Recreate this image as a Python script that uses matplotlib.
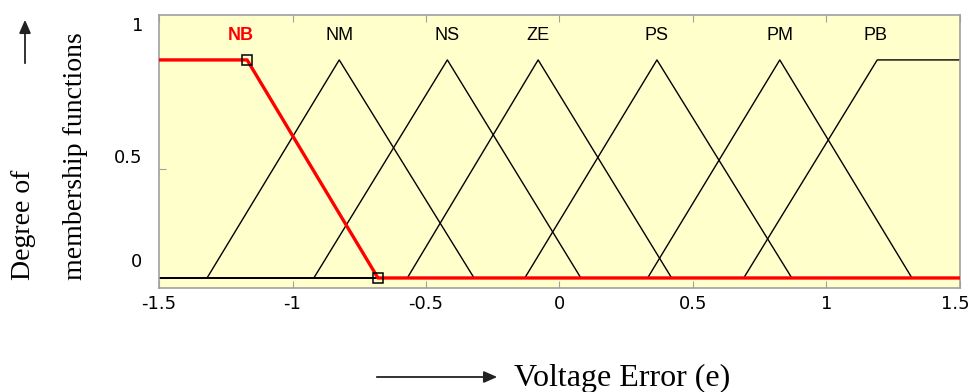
import numpy as np
import matplotlib.pyplot as plt
from matplotlib.transforms import offset_copy

# universe of discourse for the voltage error
x_range = [-1.5, 1.5]

# NB is a left shoulder: flat at 1 up to nb_shoulder, down to 0 at nb_foot
nb_shoulder = -1.17
nb_foot = -0.68

# triangular sets: (left foot, peak, right foot)
tri_names = ['NM', 'NS', 'ZE', 'PS', 'PM']
tri_left = [-1.32, -0.92, -0.57, -0.13, 0.33]
tri_peak = [-0.825, -0.42, -0.08, 0.365, 0.825]
tri_right = [-0.32, 0.08, 0.42, 0.87, 1.32]

# PB is a right shoulder
pb_foot = 0.69
pb_shoulder = 1.19

x_ticks = [-1.5, -1, -0.5, 0, 0.5, 1, 1.5]
x_ticklabels = ['-1.5', '-1', '-0.5', '0', '0.5', '1', '1.5']
y_ticks = [0, 0.5, 1]

W, H = 970, 392
fig = plt.figure(figsize=(W / 100, H / 100), dpi=100)
fig.patch.set_facecolor('white')
ax = fig.add_axes([159 / W, 1 - 288 / H, (960 - 159) / W, (288 - 15) / H])
ax.set_facecolor('#ffffcc')

lo, hi = x_range
lab_font = dict(fontsize=13, family='Liberation Sans')

# black sets, each plotted over the whole range like plotmf does
for name, a, b, c in zip(tri_names, tri_left, tri_peak, tri_right):
    ax.plot([lo, a, b, c, hi], [0, 0, 1, 0, 0], color='black', lw=1.0, zorder=2)
    ax.text(b, 1.11, name, ha='center', va='center', color='black', **lab_font)

ax.plot([lo, pb_foot, pb_shoulder, hi], [0, 0, 1, 1], color='black', lw=1.0, zorder=2)
ax.text(pb_shoulder - 0.005, 1.11, 'PB', ha='center', va='center', color='black', **lab_font)

# selected set in red with square handles on its vertices
ax.plot([lo, nb_shoulder, nb_foot, hi], [1, 1, 0, 0], color='#ff0000', lw=2.4, zorder=3)
ax.plot([nb_shoulder, nb_foot], [1, 0], ls='none', marker='s', ms=7,
        mfc='none', mec='black', mew=1.1, zorder=4)
ax.text(nb_shoulder - 0.025, 1.11, 'NB', ha='center', va='center',
        weight='bold', color='#ff0000', **lab_font)

ax.set_xlim(lo, hi)
ax.set_ylim(-0.046, 1.206)
ax.set_xticks(x_ticks)
ax.set_xticklabels(x_ticklabels, family='DejaVu Sans', fontsize=13)
ax.set_yticks(y_ticks)
ax.set_yticklabels([])
ax.tick_params(axis='x', direction='in', length=5, color='#a0a0a0',
               top=True, pad=5)
ax.tick_params(axis='y', direction='in', length=5, color='#a0a0a0')
for s in ax.spines.values():
    s.set_color('#a0a0a0')
    s.set_linewidth(1.2)

# keep the last x label inside the figure
last = ax.get_xticklabels()[-1]
last.set_transform(offset_copy(last.get_transform(), fig=fig, x=-5, units='dots'))

# y tick labels sit a bit off their ticks
def fig_text(px, py, s, **kw):
    fig.text(px / W, 1 - py / H, s, **kw)

fig_text(138, 26, '1', ha='center', va='center', family='DejaVu Sans', fontsize=13)
fig_text(128, 158, '0.5', ha='center', va='center', family='DejaVu Sans', fontsize=13)
fig_text(137, 262, '0', ha='center', va='center', family='DejaVu Sans', fontsize=13)

# axis titles
fig_text(24, 280, 'Degree of', rotation=90, ha='center', va='bottom',
         family='Liberation Serif', fontsize=20)
fig_text(76, 280, 'membership functions', rotation=90, ha='center', va='bottom',
         family='Liberation Serif', fontsize=20)
fig_text(514, 378, 'Voltage Error (e)', ha='left', va='center',
         family='Liberation Serif', fontsize=23)

arrow = dict(arrowstyle='-|>,head_length=0.8,head_width=0.35', color='#222222', lw=1.3)
ax.annotate('', xy=(25, H - 17), xytext=(25, H - 66), xycoords='figure pixels',
            textcoords='figure pixels', arrowprops=arrow, annotation_clip=False)
ax.annotate('', xy=(500, H - 377), xytext=(374, H - 377), xycoords='figure pixels',
            textcoords='figure pixels', arrowprops=arrow, annotation_clip=False)

fig.savefig('out.png', dpi=100)
